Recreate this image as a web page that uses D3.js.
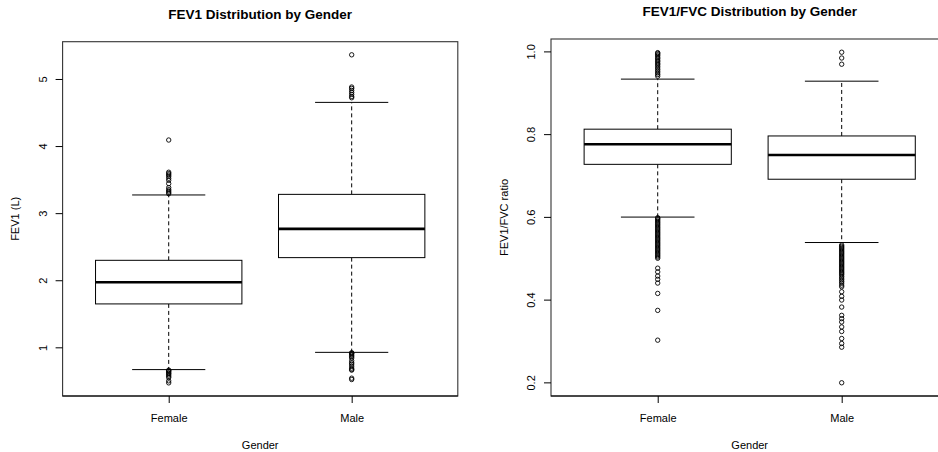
<!DOCTYPE html>
<html>
<head>
<meta charset="utf-8">
<script src="https://cdn.jsdelivr.net/npm/d3@7"></script>
<style>
  html, body { margin: 0; padding: 0; background: #fff; }
  svg { display: block; font-family: "Liberation Sans", Arial, Helvetica, sans-serif; }
</style>
</head>
<body>
<svg id="chart" width="938" height="452"></svg>
<script>
// Groups on the x axis
const genders = ["Female", "Male"];

// FEV1 (L): five-number summaries per gender (whisker ends, quartiles, median)
const fev1WhiskerLow  = [0.668, 0.925];
const fev1Q1          = [1.647, 2.337];
const fev1Median      = [1.969, 2.765];
const fev1Q3          = [2.297, 3.280];
const fev1WhiskerHigh = [3.271, 4.651];
const fev1OutliersFemale = [4.09, 3.61, 3.59, 3.57, 3.55, 3.52, 3.49, 3.44, 3.38, 3.35, 3.33, 3.31, 3.29,
                            0.66, 0.65, 0.64, 0.62, 0.61, 0.59, 0.57, 0.55, 0.50, 0.47];
const fev1OutliersMale   = [5.36, 4.88, 4.86, 4.83, 4.80, 4.77, 4.74, 4.72,
                            0.92, 0.91, 0.90, 0.88, 0.86, 0.84, 0.80, 0.77, 0.75, 0.72, 0.69, 0.67, 0.66, 0.54, 0.52];
const fev1Ticks = [1, 2, 3, 4, 5];

// FEV1/FVC ratio: five-number summaries per gender
const ratioWhiskerLow  = [0.5995, 0.538];
const ratioQ1          = [0.727, 0.691];
const ratioMedian      = [0.7755, 0.7496];
const ratioQ3          = [0.812, 0.7956];
const ratioWhiskerHigh = [0.933, 0.928];
const ratioOutliersFemale = [0.997, 0.995, 0.992, 0.989, 0.985, 0.982, 0.978, 0.975, 0.971, 0.968, 0.964,
                             0.960, 0.956, 0.952, 0.948, 0.944, 0.940,
                             0.598, 0.596, 0.593, 0.590, 0.587, 0.584, 0.581, 0.578, 0.575, 0.572, 0.569,
                             0.566, 0.563, 0.560, 0.557, 0.554, 0.551, 0.548, 0.545, 0.542, 0.539, 0.536,
                             0.533, 0.530, 0.527, 0.524, 0.521, 0.518, 0.515, 0.512, 0.509, 0.506, 0.503,
                             0.500, 0.476, 0.467, 0.457, 0.449, 0.440, 0.415, 0.374, 0.302];
const ratioOutliersMale   = [0.998, 0.984, 0.969,
                             0.532, 0.529, 0.526, 0.523, 0.520, 0.517, 0.514, 0.511, 0.508, 0.505, 0.502,
                             0.499, 0.496, 0.493, 0.490, 0.487, 0.484, 0.481, 0.478, 0.475, 0.472, 0.469,
                             0.466, 0.463, 0.460, 0.456, 0.452, 0.448, 0.444, 0.440, 0.435, 0.431,
                             0.419, 0.408, 0.399, 0.382, 0.362, 0.354, 0.346, 0.334, 0.323, 0.306, 0.294,
                             0.285, 0.199];
const ratioTicks = [0.2, 0.4, 0.6, 0.8, 1.0];

const svg = d3.select("#chart");

function boxPanel(cfg) {
  const g = svg.append("g");
  const { x0, x1, y0, y1 } = cfg.area;

  // Value range of everything drawn, padded by 4% on each side
  const all = [].concat(cfg.low, cfg.high, ...cfg.outliers);
  const [mn, mx] = d3.extent(all);
  const pad = (mx - mn) * 0.04;
  const y = d3.scaleLinear().domain([mn - pad, mx + pad]).range([y1, y0]);
  const x = d3.scalePoint().domain(genders).range([x0, x1]).padding(0.58);
  const step = x.step();
  const halfBox = step * 0.4;
  const halfCap = step * 0.2;

  const rows = genders.map((k, i) => ({
    key: k, lo: cfg.low[i], q1: cfg.q1[i], med: cfg.med[i], q3: cfg.q3[i], hi: cfg.high[i],
    out: cfg.outliers[i]
  }));

  // whiskers (dashed)
  const wh = g.append("g").attr("stroke", "#000").attr("stroke-width", 1).attr("stroke-dasharray", "4,3");
  rows.forEach(r => {
    wh.append("line").attr("x1", x(r.key)).attr("x2", x(r.key)).attr("y1", y(r.q3)).attr("y2", y(r.hi));
    wh.append("line").attr("x1", x(r.key)).attr("x2", x(r.key)).attr("y1", y(r.q1)).attr("y2", y(r.lo));
  });

  // staples
  const st = g.append("g").attr("stroke", "#000").attr("stroke-width", 1);
  rows.forEach(r => {
    [r.hi, r.lo].forEach(v => {
      st.append("line").attr("x1", x(r.key) - halfCap).attr("x2", x(r.key) + halfCap)
        .attr("y1", y(v)).attr("y2", y(v));
    });
  });

  // boxes
  g.append("g").selectAll("rect").data(rows).join("rect")
    .attr("x", d => x(d.key) - halfBox)
    .attr("width", halfBox * 2)
    .attr("y", d => y(d.q3))
    .attr("height", d => y(d.q1) - y(d.q3))
    .attr("fill", "#fff").attr("stroke", "#000").attr("stroke-width", 1);

  // medians
  g.append("g").selectAll("line").data(rows).join("line")
    .attr("x1", d => x(d.key) - halfBox).attr("x2", d => x(d.key) + halfBox)
    .attr("y1", d => y(d.med)).attr("y2", d => y(d.med))
    .attr("stroke", "#000").attr("stroke-width", 2.6);

  // outliers
  rows.forEach(r => {
    g.append("g").selectAll("circle").data(r.out).join("circle")
      .attr("cx", x(r.key)).attr("cy", d => y(d)).attr("r", 2.2)
      .attr("fill", "none").attr("stroke", "#000").attr("stroke-width", 0.9);
  });

  // frame
  g.append("rect").attr("x", x0).attr("y", y0).attr("width", x1 - x0).attr("height", y1 - y0)
    .attr("fill", "none").attr("stroke", "#333").attr("stroke-width", 1.1);

  // left axis
  const yAxis = d3.axisLeft(y).tickValues(cfg.ticks).tickSize(7).tickFormat(cfg.fmt);
  const ya = g.append("g").attr("transform", `translate(${x0},0)`).call(yAxis);
  ya.select(".domain").remove();
  ya.selectAll(".tick line").attr("stroke", "#000");
  ya.selectAll(".tick text").remove();
  ya.selectAll(".tick").append("text")
    .attr("transform", "rotate(-90)")
    .attr("x", 0).attr("y", -16)
    .attr("text-anchor", "middle")
    .attr("fill", "#000")
    .style("font-size", "11px")
    .text(d => cfg.fmt(d));

  // bottom axis
  const xAxis = d3.axisBottom(x).tickSize(7);
  const xa = g.append("g").attr("transform", `translate(0,${y1})`).call(xAxis);
  xa.select(".domain").attr("stroke", "#000").attr("d", `M${x0},0H${x1}`);
  xa.selectAll(".tick line").attr("stroke", "#000");
  xa.selectAll(".tick text").attr("y", 18).attr("dy", "0.71em")
    .attr("fill", "#000").style("font-size", "11px").style("font-family", null);
  xa.attr("font-family", null).attr("font-size", null);
  ya.attr("font-family", null).attr("font-size", null);

  const cx = (x0 + x1) / 2, cy = (y0 + y1) / 2;
  // title
  g.append("text").attr("x", cx).attr("y", cfg.titleY).attr("text-anchor", "middle")
    .style("font-size", "13.5px").style("font-weight", "bold").text(cfg.title);
  // axis titles
  g.append("text").attr("x", cx).attr("y", 449).attr("text-anchor", "middle")
    .style("font-size", "11px").text("Gender");
  g.append("text").attr("transform", `translate(${x0 - 43.5},${cy}) rotate(-90)`)
    .attr("text-anchor", "middle").style("font-size", "11px").text(cfg.ylabel);
}

boxPanel({
  area: { x0: 62.6, x1: 457.8, y0: 41.7, y1: 396 },
  low: fev1WhiskerLow, q1: fev1Q1, med: fev1Median, q3: fev1Q3, high: fev1WhiskerHigh,
  outliers: [fev1OutliersFemale, fev1OutliersMale],
  ticks: fev1Ticks, fmt: d3.format("d"),
  title: "FEV1 Distribution by Gender", titleY: 19, ylabel: "FEV1 (L)"
});

boxPanel({
  area: { x0: 551, x1: 948.4, y0: 39, y1: 396 },
  low: ratioWhiskerLow, q1: ratioQ1, med: ratioMedian, q3: ratioQ3, high: ratioWhiskerHigh,
  outliers: [ratioOutliersFemale, ratioOutliersMale],
  ticks: ratioTicks, fmt: d3.format(".1f"),
  title: "FEV1/FVC Distribution by Gender", titleY: 16, ylabel: "FEV1/FVC ratio"
});
</script>
</body>
</html>
